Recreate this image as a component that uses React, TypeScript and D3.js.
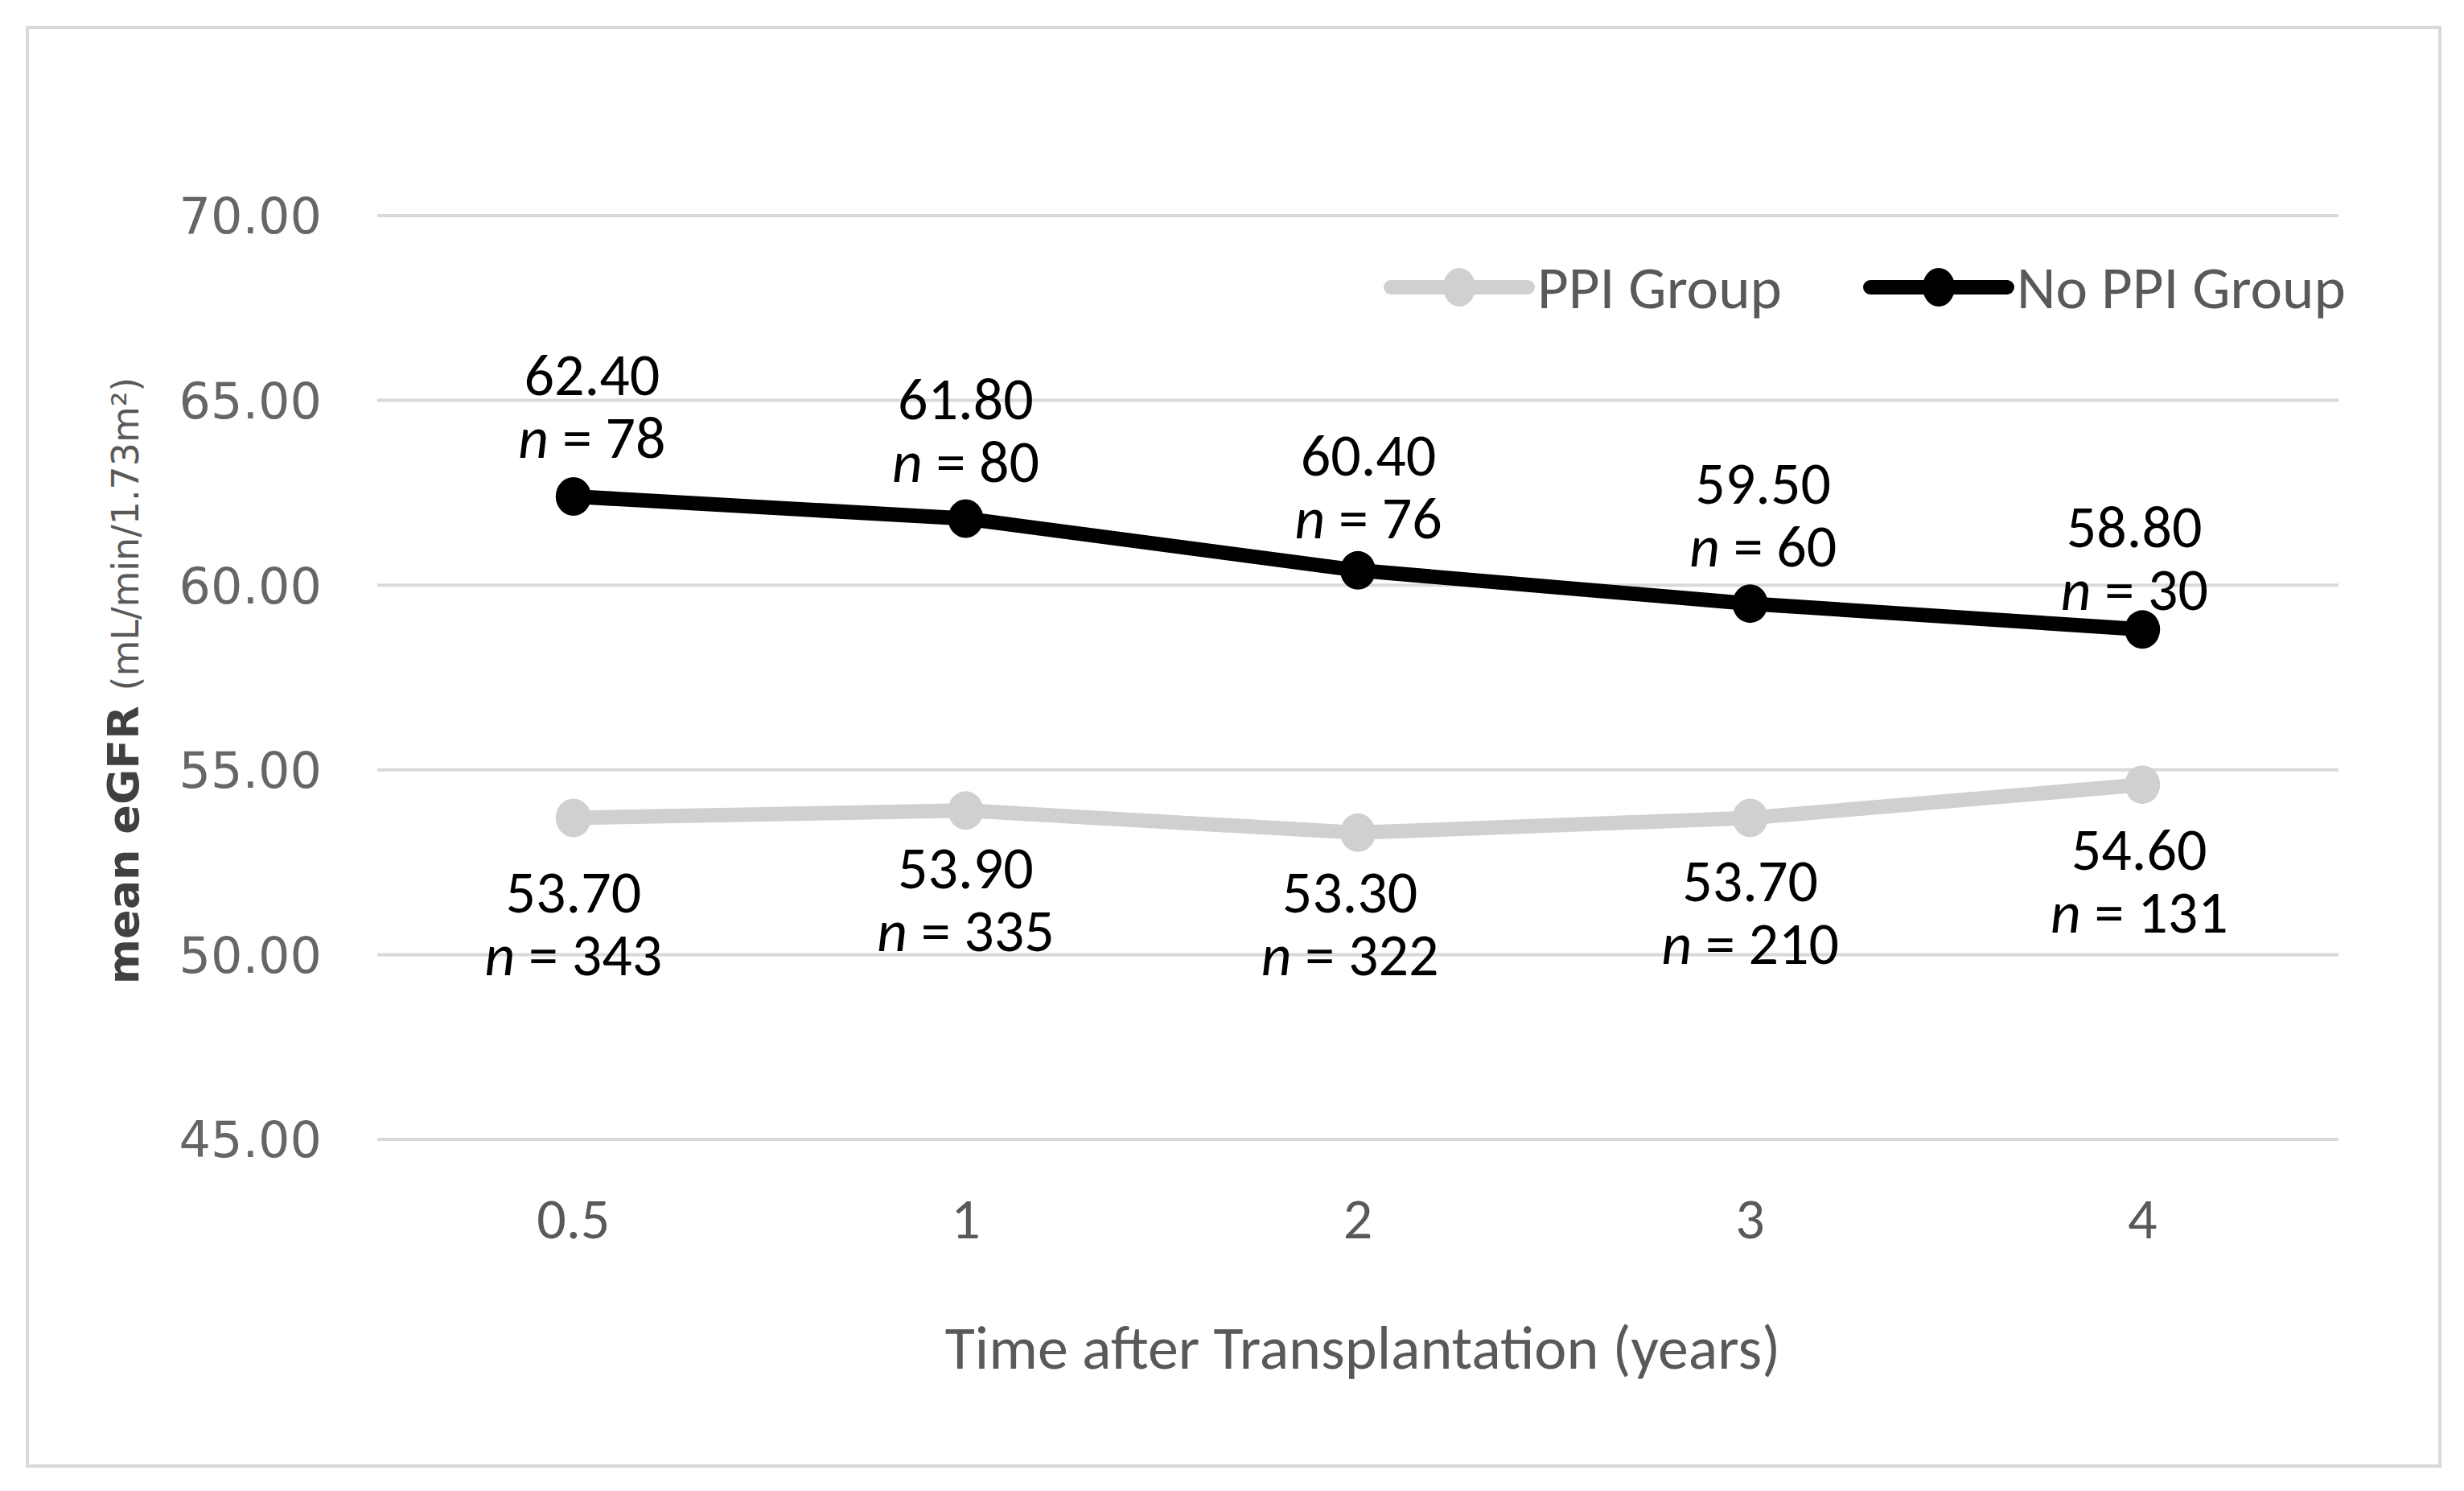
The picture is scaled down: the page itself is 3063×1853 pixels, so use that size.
import React from 'react';
import * as d3 from 'd3';

const CATEGORIES = ['0.5', '1', '2', '3', '4'];
const Y_TICKS = [45, 50, 55, 60, 65, 70];
const PPI_VALUES = [53.7, 53.9, 53.3, 53.7, 54.6];
const PPI_N = [343, 335, 322, 210, 131];
const NO_PPI_VALUES = [62.4, 61.8, 60.4, 59.5, 58.8];
const NO_PPI_N = [78, 80, 76, 60, 30];

// label offsets from the marker, [dx, dy of first line]
const NO_PPI_LABEL_OFFSETS: [number, number][] = [[23, -152], [0, -150], [13, -144], [16, -150], [-10, -128]];
const PPI_LABEL_OFFSETS: [number, number][] = [[0, 92], [0, 71], [-10, 73], [0, 78], [-4, 80]];

const W = 3063;
const H = 1853;
const FONT = 'Carlito, Lato, "Open Sans", sans-serif';
const WIDE_FONT = '"DejaVu Sans", Verdana, sans-serif';
const GRID = '#d9d9d9';
const TEXT_GRAY = '#595959';
const PPI_COLOR = '#d0d0d0';
const NO_PPI_COLOR = '#000000';

const App: React.FC = () => {
    const x = d3.scalePoint<string>().domain(CATEGORIES).range([469, 2907]).padding(0.5);
    const y = d3.scaleLinear().domain([45, 70]).range([1416, 268]);

    const line = d3.line<number>()
        .x((_, i) => x(CATEGORIES[i]) as number)
        .y(d => y(d));

    const series = [
        { name: 'PPI Group', values: PPI_VALUES, n: PPI_N, color: PPI_COLOR, offsets: PPI_LABEL_OFFSETS },
        { name: 'No PPI Group', values: NO_PPI_VALUES, n: NO_PPI_N, color: NO_PPI_COLOR, offsets: NO_PPI_LABEL_OFFSETS },
    ];

    const legend = [
        { name: 'PPI Group', color: PPI_COLOR, x0: 1729 },
        { name: 'No PPI Group', color: NO_PPI_COLOR, x0: 2325 },
    ];

    return (
        <div style={{ position: 'absolute', left: 0, top: 0 }}>
            <svg width={W} height={H} viewBox={`0 0 ${W} ${H}`} style={{ display: 'block', fontFamily: FONT }}>
                <rect x={0} y={0} width={W} height={H} fill="#fff" />
                <rect x={34} y={34} width={2999} height={1788} fill="none" stroke={GRID} strokeWidth={4} />

                {/* gridlines + y ticks */}
                {Y_TICKS.map(t => (
                    <g key={t}>
                        <line x1={469} x2={2907} y1={y(t)} y2={y(t)} stroke={GRID} strokeWidth={4} />
                        <text x={400} y={y(t)} dy="0.36em" textAnchor="end" fontSize={62} fill="#666"
                            fontFamily={WIDE_FONT}>
                            {t.toFixed(2)}
                        </text>
                    </g>
                ))}

                {/* x ticks */}
                {CATEGORIES.map(c => (
                    <text key={c} x={x(c)} y={1514} dy="0.35em" textAnchor="middle" fontSize={72} fill={TEXT_GRAY}>
                        {c}
                    </text>
                ))}

                {/* axis titles */}
                <text x={1694} y={1674} dy="0.35em" textAnchor="middle" fontSize={76} fill={TEXT_GRAY}>
                    Time after Transplantation (years)
                </text>
                <text transform="translate(166,846) rotate(-90)" textAnchor="middle" dy="0.36em" fill="#404040"
                    fontFamily={WIDE_FONT}>
                    <tspan fontSize={54} fontWeight={700}>mean eGFR </tspan>
                    <tspan fontSize={46} fill={TEXT_GRAY}>(mL/min/1.73m²)</tspan>
                </text>

                {/* lines and markers */}
                {series.map(s => (
                    <g key={s.name}>
                        <path d={line(s.values) ?? ''} fill="none" stroke={s.color} strokeWidth={18} strokeLinejoin="round" />
                        {s.values.map((v, i) => (
                            <ellipse key={i} cx={x(CATEGORIES[i])} cy={y(v)} rx={22} ry={24} fill={s.color} />
                        ))}
                    </g>
                ))}

                {/* data labels: value on first line, n on second */}
                {series.map(s => (
                    <g key={s.name + '-labels'}>
                        {s.values.map((v, i) => {
                            const [dx, dy] = s.offsets[i];
                            const cx = (x(CATEGORIES[i]) as number) + dx;
                            const cy = y(v) + dy + 26;
                            return (
                                <text key={i} x={cx} y={cy} textAnchor="middle" fontSize={74} fill="#000">
                                    <tspan x={cx}>{v.toFixed(2)}</tspan>
                                    <tspan x={cx} dy={78}>
                                        <tspan fontStyle="italic">n</tspan> = {s.n[i]}
                                    </tspan>
                                </text>
                            );
                        })}
                    </g>
                ))}

                {/* legend */}
                {legend.map(l => (
                    <g key={l.name}>
                        <line x1={l.x0} x2={l.x0 + 170} y1={357} y2={357} stroke={l.color} strokeWidth={18} strokeLinecap="round" />
                        <ellipse cx={l.x0 + 85} cy={357} rx={20} ry={24} fill={l.color} />
                        <text x={l.x0 + 182} y={357} dy="0.35em" fontSize={75} fill={TEXT_GRAY}>{l.name}</text>
                    </g>
                ))}
            </svg>
        </div>
    );
};

export default App;
